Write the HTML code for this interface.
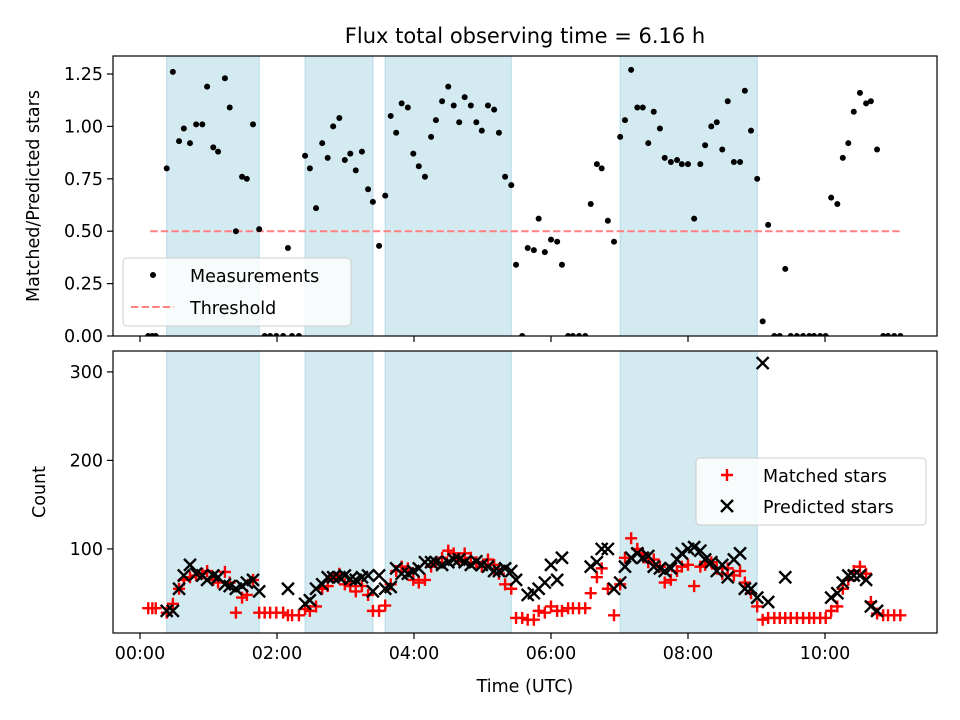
<!DOCTYPE html>
<html><head><meta charset="utf-8"><style>
body{margin:0;background:#fff;}
svg{display:block;font-family:"DejaVu Sans","Liberation Sans",sans-serif;}
</style></head><body>
<svg id="chart" width="960" height="720" viewBox="0 0 960 720">
<defs>
<clipPath id="clipTop"><rect x="113" y="56" width="824" height="280"/></clipPath>
<clipPath id="clipBot"><rect x="113" y="351" width="824" height="282"/></clipPath>
</defs>
<text x="525" y="43" text-anchor="middle" font-size="21">Flux total observing time = 6.16 h</text>
<g id="topPanel"></g>
<g id="botPanel"></g>
<text x="525" y="692" text-anchor="middle" font-size="17.5">Time (UTC)</text>
<text transform="translate(39,196) rotate(-90)" text-anchor="middle" font-size="17.5">Matched/Predicted stars</text>
<text transform="translate(45,492) rotate(-90)" text-anchor="middle" font-size="17.5">Count</text>
</svg>
<script>
const times = [0.12,0.18,0.23,0.39,0.48,0.57,0.64,0.73,0.82,0.91,0.98,1.07,1.14,1.24,1.31,1.40,1.49,1.56,1.65,1.74,1.82,1.90,1.99,2.09,2.16,2.22,2.32,2.41,2.48,2.57,2.66,2.74,2.82,2.91,2.99,3.07,3.15,3.24,3.33,3.40,3.49,3.58,3.66,3.74,3.82,3.91,3.99,4.07,4.16,4.25,4.32,4.41,4.50,4.58,4.66,4.74,4.83,4.91,4.99,5.08,5.17,5.24,5.33,5.42,5.49,5.58,5.66,5.75,5.82,5.91,6.00,6.09,6.16,6.25,6.32,6.41,6.50,6.58,6.67,6.74,6.83,6.92,7.01,7.08,7.17,7.26,7.34,7.42,7.50,7.59,7.66,7.75,7.84,7.91,8.00,8.09,8.18,8.25,8.34,8.42,8.50,8.58,8.67,8.76,8.83,8.92,9.01,9.09,9.17,9.26,9.34,9.42,9.50,9.59,9.68,9.77,9.84,9.93,10.01,10.09,10.18,10.26,10.34,10.42,10.51,10.60,10.67,10.76,10.85,10.92,11.01,11.10];
const ratios = [0,0,0,0.80,1.26,0.93,0.99,0.92,1.01,1.01,1.19,0.90,0.88,1.23,1.09,0.50,0.76,0.75,1.01,0.51,0,0,0,0,0.42,0,0,0.86,0.80,0.61,0.92,0.85,1.00,1.04,0.84,0.87,0.79,0.88,0.70,0.64,0.43,0.67,1.05,0.97,1.11,1.09,0.87,0.81,0.76,0.95,1.03,1.12,1.19,1.10,1.02,1.14,1.10,1.02,0.98,1.10,1.08,0.97,0.76,0.72,0.34,0,0.42,0.41,0.56,0.40,0.46,0.45,0.34,0,0,0,0,0.63,0.82,0.80,0.55,0.45,0.95,1.03,1.27,1.09,1.09,0.92,1.07,0.99,0.85,0.83,0.84,0.82,0.82,0.56,0.82,0.91,1.00,1.02,0.89,1.12,0.83,0.83,1.17,0.98,0.75,0.07,0.53,0,0,0.32,0,0,0,0,0,0,0,0.66,0.63,0.85,0.92,1.07,1.16,1.11,1.12,0.89,0,0,0,0];
const matched = [33,33,33,28,38,55,65,68,70,72,75,65,62,74,62,28,45,48,65,28,28,28,28,28,25,25,25,32,30,35,55,58,68,72,60,58,52,58,48,30,30,36,60,75,80,78,65,62,65,80,85,90,98,95,88,95,90,85,80,88,82,72,60,55,22,22,20,20,30,28,35,30,30,33,33,33,33,50,68,78,55,25,60,90,112,100,95,85,88,80,62,65,75,80,82,58,80,82,85,78,72,78,70,75,62,50,35,20,22,22,22,22,22,22,22,22,22,22,22,30,35,55,65,75,80,72,40,27,25,25,25,25];
const predicted = [null,null,null,30,30,55,70,82,72,70,65,70,68,60,58,55,58,62,65,52,null,null,null,null,55,null,null,38,42,55,60,68,68,68,70,66,65,68,70,52,70,55,57,78,72,72,75,78,85,85,85,82,85,88,88,85,82,86,82,80,75,75,78,75,65,null,48,50,55,62,82,65,90,null,null,null,null,80,85,100,100,55,62,80,90,95,90,92,80,78,75,78,88,95,100,102,98,88,85,75,82,68,88,95,55,55,45,310,40,null,null,68,null,null,null,null,null,null,null,45,50,62,70,70,70,65,35,30,null,null,null,null];
const bandStarts = [0.39,2.41,3.58,7.01];
const bandEnds = [1.74,3.40,5.42,9.01];
const threshold = 0.5;
const thresholdRange = [0.15,11.10];
const xTickHours = [0,2,4,6,8,10];
const xTickLabels = ["00:00","02:00","04:00","06:00","08:00","10:00"];
const topTicks = [0,0.25,0.5,0.75,1.0,1.25];
const topTickLabels = ["0.00","0.25","0.50","0.75","1.00","1.25"];
const botTicks = [100,200,300];
const botTickLabels = ["100","200","300"];

const NS="http://www.w3.org/2000/svg";
const L=113,R=937,XMIN=-0.394,XMAX=11.635;
const TT=56,TB=336,TYMIN=0,TYMAX=1.336;
const BT=351,BB=633,BYMIN=5,BYMAX=323.6;
const xs=h=>L+(h-XMIN)/(XMAX-XMIN)*(R-L);
const yt=v=>TB-(v-TYMIN)/(TYMAX-TYMIN)*(TB-TT);
const yb=v=>BB-(v-BYMIN)/(BYMAX-BYMIN)*(BB-BT);
function mk(tag,attrs,parent){const e=document.createElementNS(NS,tag);for(const k in attrs)e.setAttribute(k,attrs[k]);parent.appendChild(e);return e;}
const topG=document.getElementById('topPanel'),botG=document.getElementById('botPanel');

function panel(g,T,B,clip){
  for(let i=0;i<bandStarts.length;i++){
    const r=mk('rect',{x:xs(bandStarts[i]),y:T,width:xs(bandEnds[i])-xs(bandStarts[i]),height:B-T,fill:'#d4eaf1',stroke:'#b5dbe6','stroke-width':1},g);
    
    
  }
  return mk('g',{'clip-path':'url(#'+clip+')'},g);
}
function frame(g,T,B,labels){
  const f=mk('rect',{x:L,y:T,width:R-L,height:B-T,fill:'none',stroke:'#000','stroke-width':1.2},g);
  
  
  xTickHours.forEach((h,i)=>{
    mk('line',{x1:xs(h),x2:xs(h),y1:B,y2:B+6,stroke:'#000','stroke-width':1.2},g);
    if(labels){const t=mk('text',{x:xs(h),y:B+26,'text-anchor':'middle','font-size':17.5},g);t.textContent=xTickLabels[i];
      
      }
  });
}
// top panel
const tc=panel(topG,TT,TB,'clipTop');
const th=mk('line',{x1:xs(thresholdRange[0]),x2:xs(thresholdRange[1]),y1:yt(threshold),y2:yt(threshold),stroke:'#ff8080','stroke-width':2,'stroke-dasharray':'7.4,3.2'},tc);


times.forEach((t,i)=>{
  const c=mk('circle',{cx:xs(t),cy:yt(ratios[i]),r:3,fill:'#000'},tc);
  
  
});
frame(topG,TT,TB,false);
topTicks.forEach((v,i)=>{
  mk('line',{x1:L-6,x2:L,y1:yt(v),y2:yt(v),stroke:'#000','stroke-width':1.2},topG);
  const t=mk('text',{x:L-10,y:yt(v)+6,'text-anchor':'end','font-size':17.5},topG);t.textContent=topTickLabels[i];
  
  
});
// bottom panel
const bc=panel(botG,BT,BB,'clipBot');
times.forEach((t,i)=>{
  const x=xs(t),y=yb(matched[i]);
  const p=mk('path',{d:`M${x-6},${y}H${x+6}M${x},${y-6}V${y+6}`,stroke:'#ff0000','stroke-width':2.4,fill:'none'},bc);
  
  
});
times.forEach((t,i)=>{
  if(predicted[i]===null)return;
  const x=xs(t),y=yb(predicted[i]);
  const p=mk('path',{d:`M${x-6},${y-6}L${x+6},${y+6}M${x-6},${y+6}L${x+6},${y-6}`,stroke:'#000','stroke-width':2.4,fill:'none'},bc);
  
  
});
frame(botG,BT,BB,true);
botTicks.forEach((v,i)=>{
  mk('line',{x1:L-6,x2:L,y1:yb(v),y2:yb(v),stroke:'#000','stroke-width':1.2},botG);
  const t=mk('text',{x:L-10,y:yb(v)+6,'text-anchor':'end','font-size':17.5},botG);t.textContent=botTickLabels[i];
  
  
});
// legends
const lg1=mk('g',{},topG);


mk('rect',{x:123,y:258,width:228,height:68,rx:4,fill:'rgba(255,255,255,0.8)',stroke:'#cccccc'},lg1);
mk('circle',{cx:153,cy:275,r:3,fill:'#000'},lg1);
let t1=mk('text',{x:190,y:282,'font-size':17.5},lg1);t1.textContent='Measurements';
mk('line',{x1:131,x2:174,y1:307,y2:307,stroke:'#ff8080','stroke-width':2,'stroke-dasharray':'7.4,3.2'},lg1);
let t2=mk('text',{x:190,y:314,'font-size':17.5},lg1);t2.textContent='Threshold';
const lg2=mk('g',{},botG);


mk('rect',{x:696,y:458,width:230,height:67,rx:4,fill:'rgba(255,255,255,0.8)',stroke:'#cccccc'},lg2);
mk('path',{d:'M721,475H733M727,469V481',stroke:'#ff0000','stroke-width':2.4},lg2);
let t3=mk('text',{x:763,y:482,'font-size':17.5},lg2);t3.textContent='Matched stars';
mk('path',{d:'M721,500L733,512M721,512L733,500',stroke:'#000','stroke-width':2.4},lg2);
let t4=mk('text',{x:763,y:513,'font-size':17.5},lg2);t4.textContent='Predicted stars';
</script>
</body></html>
